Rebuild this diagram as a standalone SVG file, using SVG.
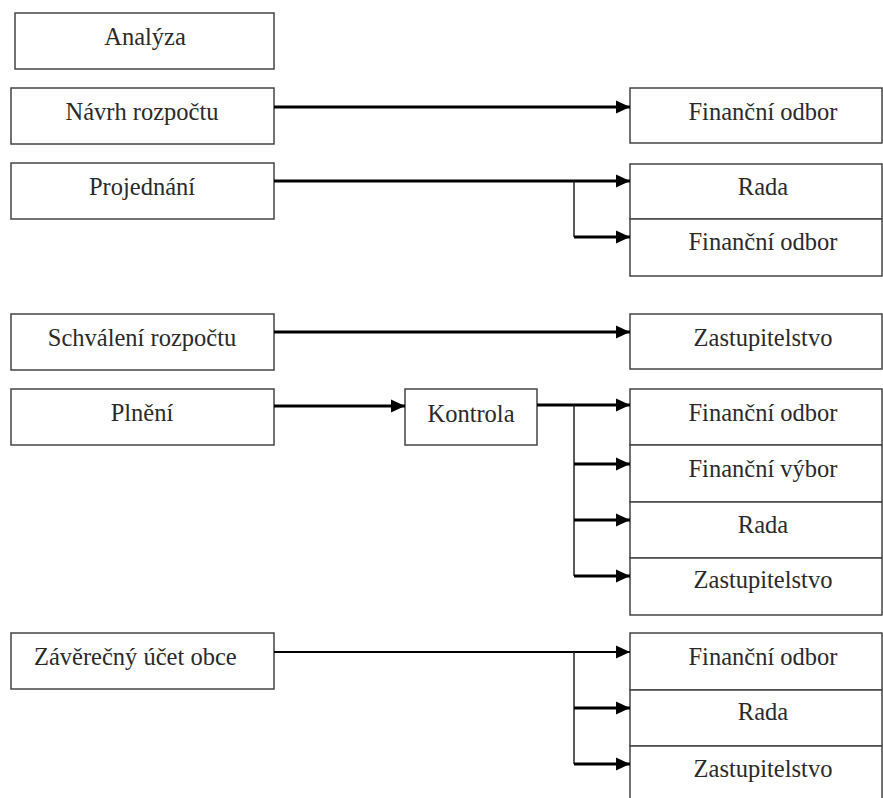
<svg xmlns="http://www.w3.org/2000/svg" width="883" height="798" viewBox="0 0 883 798">
<defs>
<marker id="ah" markerUnits="userSpaceOnUse" markerWidth="16" markerHeight="16" viewBox="0 0 16 16" refX="15" refY="8" orient="auto">
<path d="M1,1.5 L15,8 L1,14.5 Z" fill="#000"/>
</marker>
<style>
.b{fill:#fff;stroke:#444;stroke-width:1.5}
.t{font-size:24.5px;fill:#2a2a2a;text-anchor:middle}
.c{fill:none;stroke:#000;stroke-width:3}
.th{fill:none;stroke:#000;stroke-width:2}
.v{fill:none;stroke:#222;stroke-width:1.5}
</style>
</defs>
<rect width="883" height="798" fill="#fff"/>
<g font-family="Liberation Serif, DejaVu Serif, serif">
<g id="analyza"><rect class="b" x="15" y="13" width="259" height="56"/><text class="t" x="145" y="45">Analýza</text></g>
<g id="navrh"><rect class="b" x="11" y="88" width="263" height="56"/><text class="t" x="142" y="120">Návrh rozpočtu</text></g>
<g id="fo1"><rect class="b" x="630" y="88" width="252" height="55"/><text class="t" x="763" y="120">Finanční odbor</text></g>
<g id="projednani"><rect class="b" x="11" y="163" width="263" height="56"/><text class="t" x="142" y="195">Projednání</text></g>
<g id="rada1"><rect class="b" x="630" y="164" width="252" height="55"/><text class="t" x="763" y="195">Rada</text></g>
<g id="fo2"><rect class="b" x="630" y="219" width="252" height="57"/><text class="t" x="763" y="250">Finanční odbor</text></g>
<g id="schvaleni"><rect class="b" x="11" y="314" width="263" height="56"/><text class="t" x="142" y="346">Schválení rozpočtu</text></g>
<g id="zast1"><rect class="b" x="630" y="314" width="252" height="55"/><text class="t" x="763" y="346">Zastupitelstvo</text></g>
<g id="plneni"><rect class="b" x="11" y="389" width="263" height="56"/><text class="t" x="142" y="421">Plnění</text></g>
<g id="kontrola"><rect class="b" x="405" y="389" width="132" height="56"/><text class="t" x="471" y="422">Kontrola</text></g>
<g id="fo3"><rect class="b" x="630" y="389" width="252" height="56"/><text class="t" x="763" y="421">Finanční odbor</text></g>
<g id="fv"><rect class="b" x="630" y="445" width="252" height="57"/><text class="t" x="763" y="477">Finanční výbor</text></g>
<g id="rada2"><rect class="b" x="630" y="502" width="252" height="56"/><text class="t" x="763" y="533">Rada</text></g>
<g id="zast2"><rect class="b" x="630" y="558" width="252" height="57"/><text class="t" x="763" y="588">Zastupitelstvo</text></g>
<g id="zaverecny"><rect class="b" x="11" y="633" width="263" height="56"/><text class="t" x="34" y="665" text-anchor="start" style="text-anchor:start">Závěrečný účet obce</text></g>
<g id="fo4"><rect class="b" x="630" y="633" width="252" height="57"/><text class="t" x="763" y="665">Finanční odbor</text></g>
<g id="rada3"><rect class="b" x="630" y="690" width="252" height="56"/><text class="t" x="763" y="720">Rada</text></g>
<g id="zast3"><rect class="b" x="630" y="746" width="252" height="60"/><text class="t" x="763" y="777">Zastupitelstvo</text></g>
</g>
<g id="connectors">
<path class="c" d="M274,107 H630" marker-end="url(#ah)"/>
<path class="c" d="M274,181 H630" marker-end="url(#ah)"/>
<path class="v" d="M574,181 V237"/>
<path class="c" d="M574,237 H630" marker-end="url(#ah)"/>
<path class="c" d="M274,332 H630" marker-end="url(#ah)"/>
<path class="c" d="M274,406 H405" marker-end="url(#ah)"/>
<path class="c" d="M537,405 H630" marker-end="url(#ah)"/>
<path class="v" d="M574,405 V576"/>
<path class="c" d="M574,464 H630" marker-end="url(#ah)"/>
<path class="c" d="M574,520 H630" marker-end="url(#ah)"/>
<path class="c" d="M574,576 H630" marker-end="url(#ah)"/>
<path class="th" d="M274,652 H630" marker-end="url(#ah)"/>
<path class="v" d="M574,652 V764"/>
<path class="c" d="M574,708 H630" marker-end="url(#ah)"/>
<path class="c" d="M574,764 H630" marker-end="url(#ah)"/>
</g>
</svg>
